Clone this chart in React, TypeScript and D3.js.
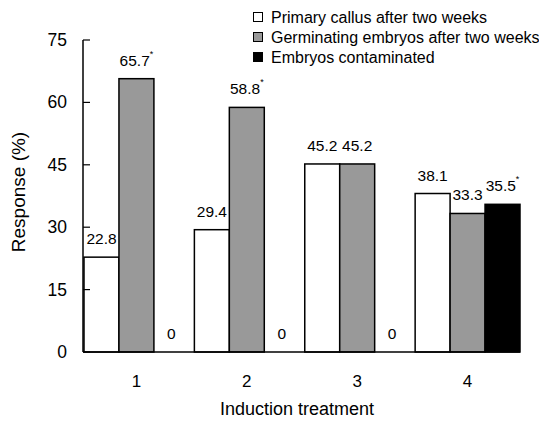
import React, { useEffect } from 'react';
import * as d3 from 'd3';

const treatments = ['1', '2', '3', '4'];
const seriesNames = [
  'Primary callus after two weeks',
  'Germinating embryos after two weeks',
  'Embryos contaminated',
];
const primaryCallus = [22.8, 29.4, 45.2, 38.1];
const germinating = [65.7, 58.8, 45.2, 33.3];
const contaminated = [0, 0, 0, 35.5];
// superscript marks shown next to some values
const primaryMarks = [false, false, false, false];
const germinatingMarks = [true, true, false, false];
const contaminatedMarks = [false, false, false, true];
const yTicks = [0, 15, 30, 45, 60, 75];

const fills = ['#ffffff', '#999999', '#000000'];
const font = 'Arial, "Liberation Sans", Helvetica, sans-serif';

const App = () => {
  useEffect(() => {
    document.body.style.margin = '0';
  }, []);

  const width = 539;
  const height = 423;
  const left = 84;
  const right = 520;
  const top = 40;
  const bottom = 352;

  const series = [primaryCallus, germinating, contaminated];
  const marks = [primaryMarks, germinatingMarks, contaminatedMarks];

  const x0 = d3.scaleBand().domain(treatments).range([left, right]).paddingInner(0.05).paddingOuter(0);
  const x1 = d3.scaleBand().domain(seriesNames).range([0, x0.bandwidth()]);
  const y = d3.scaleLinear().domain([0, 75]).range([bottom, top]);

  return (
    <svg width={width} height={height} style={{ display: 'block', fontFamily: font }}>
      <rect width={width} height={height} fill="#fff" />
      {/* bars */}
      {treatments.map((t, i) => (
        <g key={t} transform={`translate(${x0(t)},0)`}>
          {seriesNames.map((s, j) => {
            const v = series[j][i];
            const bx = x1(s) as number;
            const cx = bx + x1.bandwidth() / 2;
            return (
              <g key={s}>
                {v > 0 && (
                  <rect
                    x={bx}
                    y={y(v)}
                    width={x1.bandwidth()}
                    height={bottom - y(v)}
                    fill={fills[j]}
                    stroke="#000"
                    strokeWidth={1.5}
                  />
                )}
                <text x={cx} y={y(v) - 13} textAnchor="middle" fontSize={15.5} fill="#000">
                  {String(v)}
                  {marks[j][i] && (
                    <tspan fontSize={9} dy={-9}>*</tspan>
                  )}
                </text>
              </g>
            );
          })}
        </g>
      ))}
      {/* y axis */}
      <line x1={left - 1} x2={left - 1} y1={top} y2={bottom} stroke="#000" strokeWidth={1.5} />
      {yTicks.map(v => (
        <g key={v}>
          <line x1={left - 1} x2={left + 6} y1={y(v)} y2={y(v)} stroke="#000" strokeWidth={1.2} />
          <text x={67} y={y(v) + 6} textAnchor="end" fontSize={17.5} fill="#000">{v}</text>
        </g>
      ))}
      {/* x axis */}
      <line x1={left - 1} x2={right} y1={bottom} y2={bottom} stroke="#000" strokeWidth={1.5} />
      {treatments.map(t => (
        <text key={t} x={(x0(t) as number) + x0.bandwidth() / 2} y={387} textAnchor="middle" fontSize={17} fill="#000">
          {t}
        </text>
      ))}
      <text x={297} y={415} textAnchor="middle" fontSize={18} fill="#000">Induction treatment</text>
      <text transform="translate(25,192) rotate(-90)" textAnchor="middle" fontSize={19} fill="#000">
        Response (%)
      </text>
      {/* legend */}
      {seriesNames.map((s, j) => (
        <g key={s} transform={`translate(253,${12 + j * 20})`}>
          <rect x={0.5} y={0.5} width={9} height={9} fill={fills[j]} stroke="#000" strokeWidth={1} />
          <text x={18} y={10.5} fontSize={16} fill="#000">{s}</text>
        </g>
      ))}
    </svg>
  );
};

export default App;
